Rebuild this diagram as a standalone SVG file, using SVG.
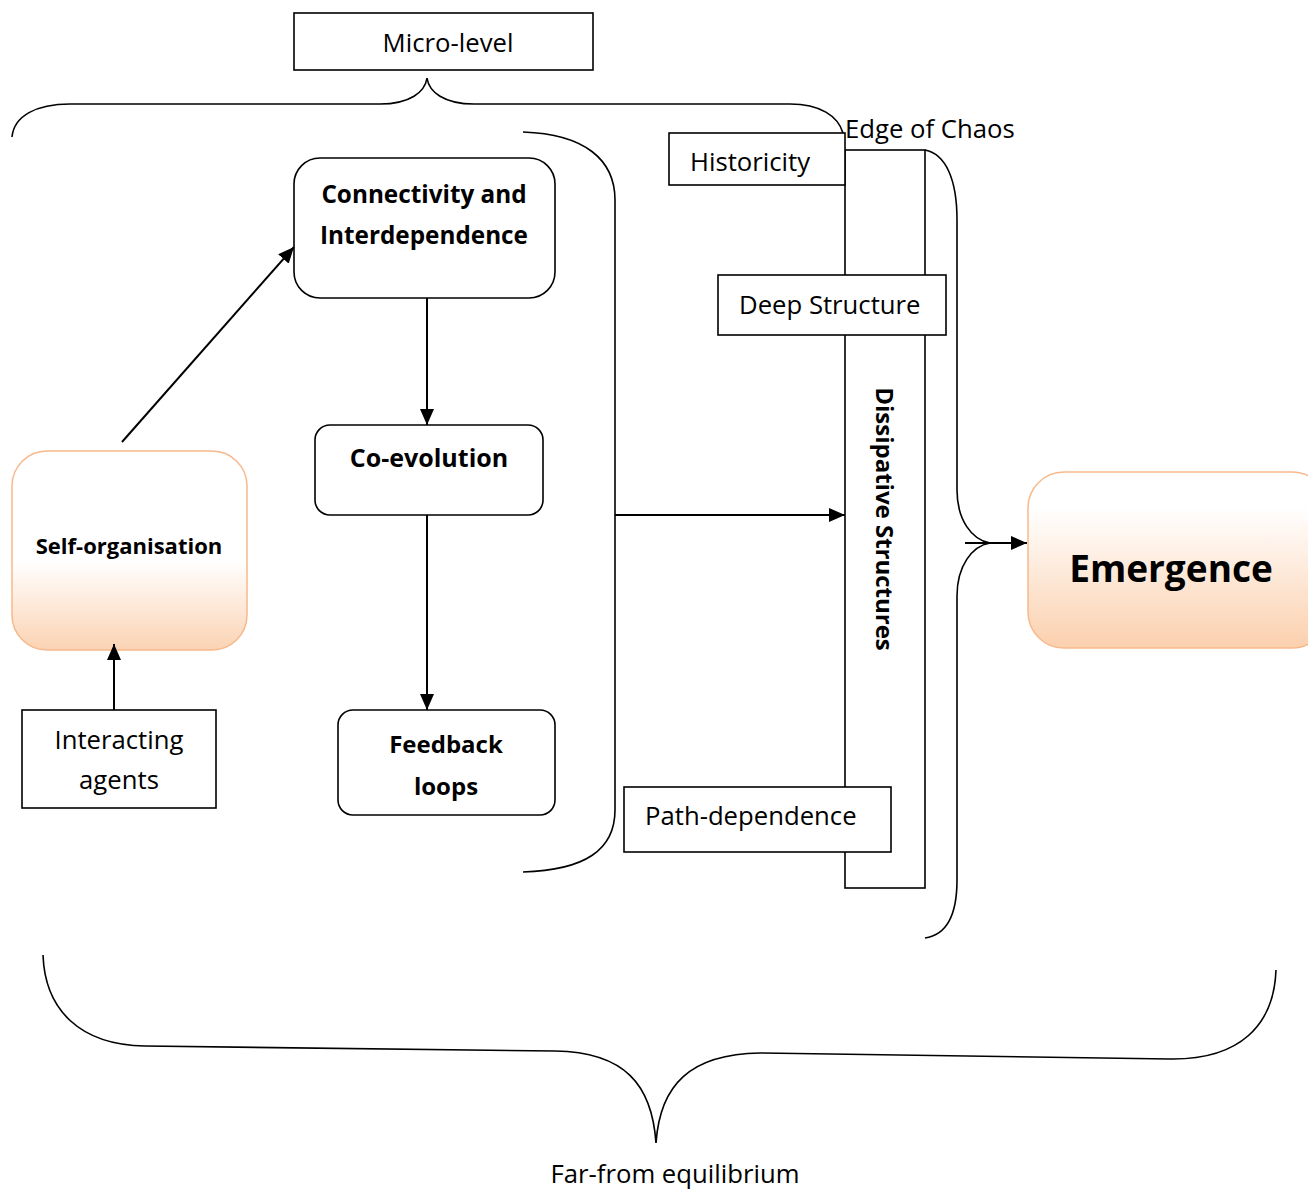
<svg xmlns="http://www.w3.org/2000/svg" width="1308" height="1191" viewBox="0 0 1308 1191">
<defs>
<linearGradient id="peach" x1="0" y1="0" x2="0" y2="1">
<stop offset="0" stop-color="#ffffff"/>
<stop offset="0.55" stop-color="#ffffff"/>
<stop offset="1" stop-color="#fbd3b3"/>
</linearGradient>
<linearGradient id="peach2" x1="0" y1="0" x2="0" y2="1">
<stop offset="0" stop-color="#ffffff"/>
<stop offset="0.2" stop-color="#ffffff"/>
<stop offset="1" stop-color="#fbd0ae"/>
</linearGradient>
<marker id="arrow" viewBox="0 0 16 14" refX="16" refY="7" markerWidth="16" markerHeight="14" markerUnits="userSpaceOnUse" orient="auto">
<path d="M0,0 L16,7 L0,14 z" fill="#000"/>
</marker>
</defs>
<style>
.box{fill:#fff;stroke:#000;stroke-width:1.6}
.peach{stroke:#f7b98c;stroke-width:1.5}
.t{font-family:"Open Sans","Liberation Sans",sans-serif;font-size:25.7px;fill:#000}
.b{font-family:"Open Sans","Liberation Sans",sans-serif;font-weight:bold;fill:#000}
.ln{fill:none;stroke:#000;stroke-width:1.6}
.ar{fill:none;stroke:#000;stroke-width:2;marker-end:url(#arrow)}
</style>
<rect width="1308" height="1191" fill="#fff"/>

<g id="braces">
<path class="ln" d="M12,137 C14,116 36,104 70,104 L380,104 C410,104 425,92 427,78 C429,92 444,104 474,104 L790,104 C820,104 838,116 843,133"/>
<path class="ln" d="M523,132 C585,134 615,160 615,200 L615,810 C615,850 585,870 523,872"/>
<path class="ln" d="M925,150 C946,154 957,180 957,220 L957,490 C957,520 972,540 990,543 C972,546 957,566 957,596 L957,880 C957,915 946,935 925,938"/>
<path class="ln" d="M43,955 C45,1010 80,1045 145,1046 L555,1051 C625,1052 652,1085 656,1143 C660,1085 690,1054 760,1053 L1170,1059 C1240,1060 1274,1025 1276,970"/>
</g>

<g id="far-from-equilibrium">
<text class="t" x="675" y="1183" text-anchor="middle">Far-from equilibrium</text>
</g>

<g id="dissipative">
<rect class="box" x="845" y="150" width="80" height="738"/>
<text class="b" font-size="24" transform="translate(876,519) rotate(90)" text-anchor="middle">Dissipative Structures</text>
</g>

<g id="micro-level">
<rect class="box" x="294" y="13" width="299" height="57"/>
<text class="t" x="448" y="52" text-anchor="middle">Micro-level</text>
</g>

<g id="edge-of-chaos">
<text class="t" x="845" y="138">Edge of Chaos</text>
</g>

<g id="historicity">
<rect class="box" x="669" y="133" width="176" height="52"/>
<text class="t" x="690" y="171">Historicity</text>
</g>

<g id="deep-structure">
<rect class="box" x="718" y="275" width="228" height="60"/>
<text class="t" x="739" y="314">Deep Structure</text>
</g>

<g id="path-dependence">
<rect class="box" x="624" y="787" width="267" height="65"/>
<text class="t" x="645" y="825">Path-dependence</text>
</g>

<g id="connectivity">
<rect class="box" x="294" y="158" width="261" height="140" rx="26"/>
<text class="b" font-size="24.3" x="424" y="203" text-anchor="middle">Connectivity and</text>
<text class="b" font-size="24.3" x="424" y="244" text-anchor="middle">Interdependence</text>
</g>

<g id="co-evolution">
<rect class="box" x="315" y="425" width="228" height="90" rx="15"/>
<text class="b" font-size="25" x="429" y="467" text-anchor="middle">Co-evolution</text>
</g>

<g id="feedback">
<rect class="box" x="338" y="710" width="217" height="105" rx="15"/>
<text class="b" font-size="24" x="446" y="753" text-anchor="middle">Feedback</text>
<text class="b" font-size="24" x="446" y="795" text-anchor="middle">loops</text>
</g>

<g id="self-organisation">
<rect class="peach" fill="url(#peach)" x="12" y="451" width="235" height="199" rx="35"/>
<text class="b" font-size="22" x="129" y="554" text-anchor="middle">Self-organisation</text>
</g>

<g id="interacting-agents">
<rect class="box" x="22" y="710" width="194" height="98"/>
<text class="t" x="119" y="749" text-anchor="middle">Interacting</text>
<text class="t" x="119" y="789" text-anchor="middle">agents</text>
</g>

<g id="emergence">
<rect class="peach" fill="url(#peach2)" x="1028" y="472" width="300" height="176" rx="36"/>
<text class="b" font-size="37" x="1171" y="582" text-anchor="middle">Emergence</text>
</g>

<g id="connectors">
<line class="ar" x1="122" y1="442" x2="294" y2="247"/>
<line class="ar" x1="427" y1="298" x2="427" y2="425"/>
<line class="ar" x1="427" y1="515" x2="427" y2="710"/>
<line class="ar" x1="114" y1="710" x2="114" y2="644"/>
<line class="ar" x1="615" y1="515" x2="845" y2="515"/>
<line class="ar" x1="965" y1="543" x2="1027" y2="543"/>
</g>
</svg>
